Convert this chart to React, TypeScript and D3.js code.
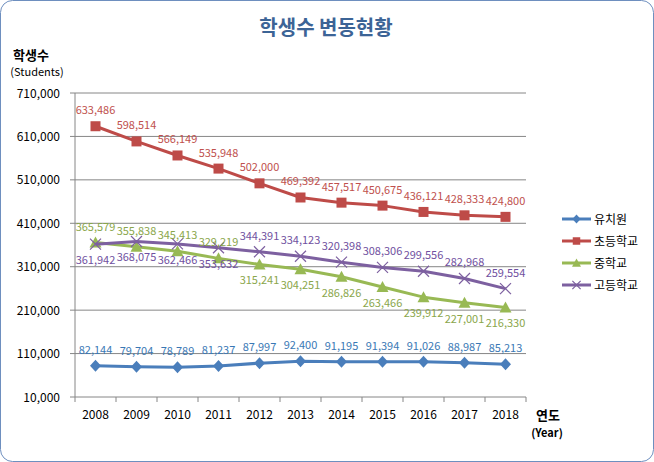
import * as d3 from 'd3'

const years = ['2008', '2009', '2010', '2011', '2012', '2013', '2014', '2015', '2016', '2017', '2018']
const kinder = [82144, 79704, 78789, 81237, 87997, 92400, 91195, 91394, 91026, 88987, 85213]
const elementary = [633486, 598514, 566149, 535948, 502000, 469392, 457517, 450675, 436121, 428333, 424800]
const middle = [365579, 355838, 345413, 329219, 315241, 304251, 286826, 263466, 239912, 227001, 216330]
const high = [361942, 368075, 362466, 353632, 344391, 334123, 320398, 308306, 299556, 282968, 259554]
const seriesNames = ['유치원', '초등학교', '중학교', '고등학교']
const yTicks = [10000, 110000, 210000, 310000, 410000, 510000, 610000, 710000]

const W = 654
const H = 462
const font = "'Noto Sans CJK KR', 'Noto Sans', sans-serif"

type Series = {
  name: string
  values: number[]
  color: string
  labelColor: string
  marker: 'diamond' | 'square' | 'triangle' | 'x'
  below: (i: number) => boolean
}

const series: Series[] = [
  { name: seriesNames[0], values: kinder, color: '#4a7ebb', labelColor: '#3a78b5', marker: 'diamond', below: () => false },
  { name: seriesNames[1], values: elementary, color: '#be4b48', labelColor: '#c0504d', marker: 'square', below: () => false },
  { name: seriesNames[2], values: middle, color: '#98b954', labelColor: '#8aa64b', marker: 'triangle', below: i => i >= 4 },
  { name: seriesNames[3], values: high, color: '#7d60a0', labelColor: '#7050a0', marker: 'x', below: i => i < 4 },
]

function Marker({ type, x, y, color, k = 1 }: { type: string; x: number; y: number; color: string; k?: number }) {
  if (type === 'diamond') {
    return <path d={`M${x},${y - 6 * k}L${x + 5.5 * k},${y}L${x},${y + 6 * k}L${x - 5.5 * k},${y}Z`} fill={color} />
  }
  if (type === 'square') {
    return <rect x={x - 5 * k} y={y - 5 * k} width={10 * k} height={10 * k} fill={color} />
  }
  if (type === 'triangle') {
    return <path d={`M${x},${y - 6 * k}L${x + 6 * k},${y + 5 * k}L${x - 6 * k},${y + 5 * k}Z`} fill={color} />
  }
  const r = 5.5 * k
  return (
    <path d={`M${x - r},${y - r}L${x + r},${y + r}M${x - r},${y + r}L${x + r},${y - r}`} stroke={color} strokeWidth={1.2} fill="none" />
  )
}

export default function App() {
  const margin = { top: 93, right: 128, bottom: 65, left: 75 }
  const x = d3.scaleBand<string>().domain(years).range([margin.left, W - margin.right])
  const y = d3.scaleLinear().domain([10000, 710000]).range([H - margin.bottom, margin.top])
  const cx = (d: string) => (x(d) ?? 0) + x.bandwidth() / 2
  const fmt = d3.format(',')
  const line = d3.line<number>().x((_, i) => cx(years[i])).y(d => y(d))

  const x0 = margin.left
  const x1 = W - margin.right
  const yb = H - margin.bottom

  return (
    <svg width={W} height={H} style={{ position: 'absolute', left: 0, top: 0, fontFamily: font }}>
      <rect x={0.5} y={0.5} width={W - 1} height={H - 1} rx={12} fill="#fff" stroke="#6e8fbf" strokeWidth={1} />
      <text x={326} y={35} textAnchor="middle" fontSize={20} fontWeight="bold" fill="#3c6496">학생수 변동현황</text>
      <text x={31} y={60} textAnchor="middle" fontSize={13} fontWeight="bold" fill="#000">학생수</text>
      <text x={37} y={76} textAnchor="middle" fontSize={11} fill="#000">(Students)</text>

      {/* gridlines + y axis */}
      {yTicks.map(t => (
        <g key={t}>
          {t !== 10000 && <line x1={x0} x2={x1} y1={y(t)} y2={y(t)} stroke="#868686" strokeWidth={1} />}
          <line x1={x0 - 5} x2={x0} y1={y(t)} y2={y(t)} stroke="#868686" />
          <text x={x0 - 15} y={y(t) + 4.5} textAnchor="end" fontSize={12} fill="#000">{fmt(t)}</text>
        </g>
      ))}
      <line x1={x0} x2={x0} y1={margin.top} y2={yb} stroke="#868686" />
      <line x1={x0} x2={x1} y1={yb} y2={yb} stroke="#868686" />
      {years.map(yr => (
        <g key={yr}>
          <line x1={x(yr)!} x2={x(yr)!} y1={yb} y2={yb + 5} stroke="#868686" />
          <text x={cx(yr)} y={yb + 22} textAnchor="middle" fontSize={12} fill="#000">{yr}</text>
        </g>
      ))}
      <line x1={x1} x2={x1} y1={yb} y2={yb + 5} stroke="#868686" />
      <text x={548} y={420} textAnchor="middle" fontSize={13} fontWeight="bold" fill="#000">연도</text>
      <text x={547} y={437} textAnchor="middle" fontSize={11} fontWeight="bold" fill="#000">(Year)</text>

      {/* series */}
      {series.map(s => (
        <g key={s.name}>
          <path d={line(s.values) ?? ''} fill="none" stroke={s.color} strokeWidth={3} strokeLinejoin="round" />
          {s.values.map((v, i) => (
            <Marker key={i} type={s.marker} x={cx(years[i])} y={y(v)} color={s.color} />
          ))}
        </g>
      ))}
      {series.map(s => (
        <g key={s.name + '-labels'}>
          {s.values.map((v, i) => (
            <text
              key={i}
              x={cx(years[i])}
              y={y(v) + (s.below(i) ? 20 : -12)}
              textAnchor="middle"
              fontSize={11}
              fill={s.labelColor}
            >
              {fmt(v)}
            </text>
          ))}
        </g>
      ))}

      {/* legend */}
      {series.map((s, i) => {
        const ly = 219 + i * 22
        return (
          <g key={s.name + '-legend'}>
            <line x1={562} x2={591} y1={ly} y2={ly} stroke={s.color} strokeWidth={3} />
            <Marker type={s.marker} x={576.5} y={ly} color={s.color} k={0.75} />
            <text x={594} y={ly + 4.5} fontSize={12} fill="#000">{s.name}</text>
          </g>
        )
      })}
    </svg>
  )
}
